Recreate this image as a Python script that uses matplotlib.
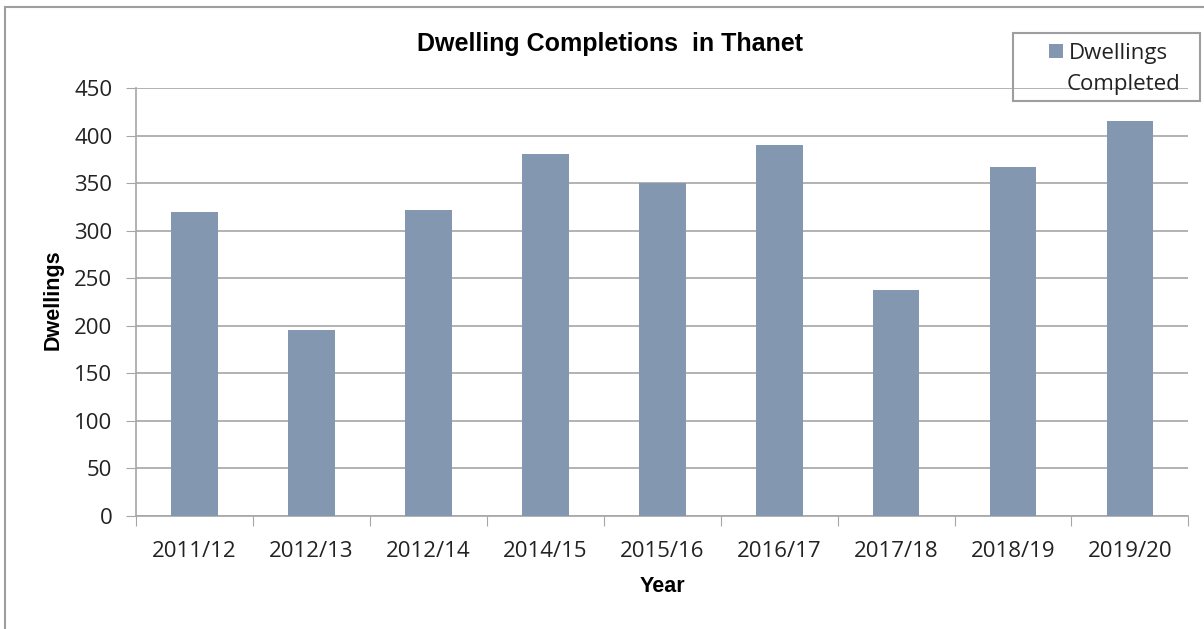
import numpy as np
import matplotlib.pyplot as plt
from matplotlib.patches import Rectangle

# Dwelling completions per financial year
years = ['2011/12', '2012/13', '2012/14', '2014/15', '2015/16',
         '2016/17', '2017/18', '2018/19', '2019/20']
completed = [320, 195, 322, 381, 350, 390, 238, 367, 415]

bar_colour = '#8497B0'
grid_colour = '#A6A6A6'
tick_font = 'Open Sans'
label_font = 'Liberation Sans'

fig = plt.figure(figsize=(12.04, 6.29), dpi=100)
ax = fig.add_axes([0.113, 0.18, 0.874, 0.68])

# outer chart border (runs off the right and bottom edges)
fig.patches.append(Rectangle((0.004, -0.05), 1.2, 1.039, transform=fig.transFigure,
                             fill=False, edgecolor='#9E9E9E', linewidth=1.5))

x = np.arange(len(years))
ax.bar(x, completed, width=0.4, color=bar_colour, label='Dwellings', zorder=3)

ax.set_xlim(-0.5, len(years) - 0.5)
ax.set_ylim(0, 450)
ax.set_yticks(np.arange(0, 451, 50))
ax.yaxis.grid(True, color=grid_colour, linewidth=1.2, zorder=0)

# category separators as ticks on the x axis
ax.set_xticks(np.arange(-0.5, len(years)), minor=False)
ax.set_xticklabels([])
ax.set_xticks(x, minor=True)
ax.set_xticklabels(years, minor=True)
ax.tick_params(axis='x', which='major', length=7, color=grid_colour, direction='out')
ax.tick_params(axis='x', which='minor', length=0, pad=18.5)
ax.tick_params(axis='y', length=7, color=grid_colour, pad=10)

for lab in ax.get_xticklabels(minor=True) + ax.get_yticklabels():
    lab.set_family(tick_font)
    lab.set_fontsize(16)
    lab.set_color('#222222')

for side in ['top', 'right']:
    ax.spines[side].set_visible(False)
for side in ['left', 'bottom']:
    ax.spines[side].set_color(grid_colour)
    ax.spines[side].set_linewidth(1.2)

fig.text(0.507, 0.930, 'Dwelling Completions  in Thanet', ha='center', va='center',
         fontsize=18, fontweight='bold', family=label_font)
fig.text(0.550, 0.067, 'Year', ha='center', va='center',
         fontsize=15.5, fontweight='bold', family=label_font)
fig.text(0.044, 0.524, 'Dwellings', ha='center', va='center', rotation=90,
         fontsize=15.5, fontweight='bold', family=label_font)

# legend box
fig.patches.append(Rectangle((0.8414, 0.8394), 0.1553, 0.1081, transform=fig.transFigure,
                             fill=False, edgecolor='#9E9E9E', linewidth=1.5))
leg = fig.legend(loc='upper left', bbox_to_anchor=(0.871, 0.932), frameon=False,
                 prop={'family': tick_font, 'size': 16}, handlelength=0.65, handleheight=0.65,
                 handletextpad=0.25, borderpad=0, borderaxespad=0)
fig.text(0.886, 0.865, 'Completed', ha='left', va='center',
         fontsize=16, family=tick_font, color='#222222')
for t in leg.get_texts():
    t.set_color('#222222')

fig.savefig('out.png', dpi=100)
